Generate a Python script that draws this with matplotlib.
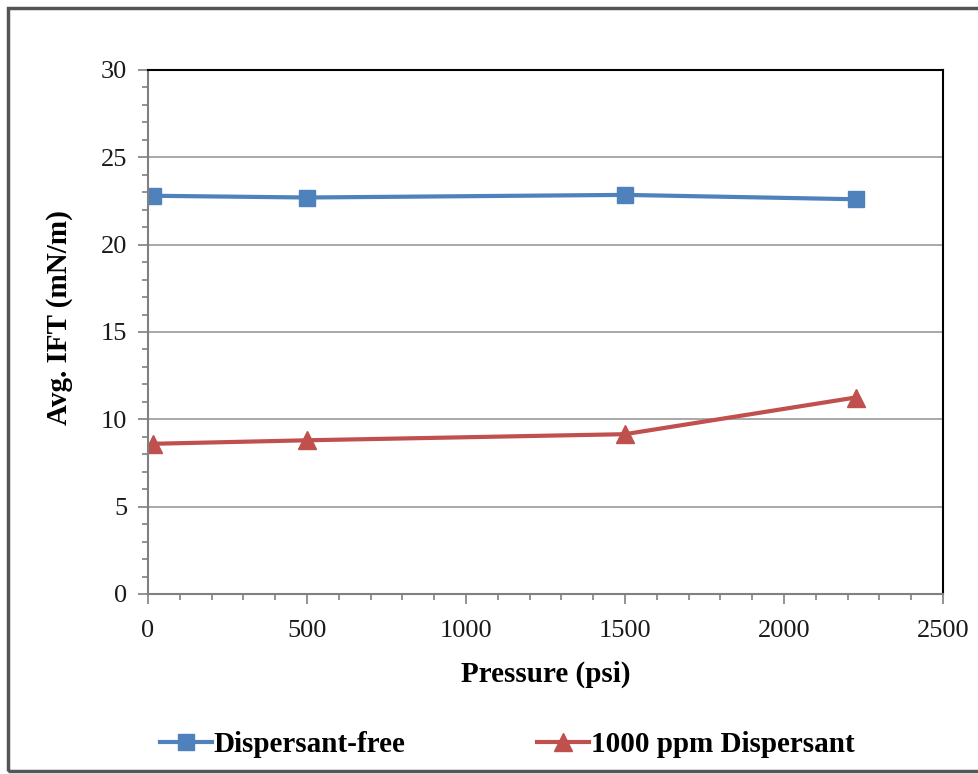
import matplotlib.pyplot as plt
from matplotlib.patches import Rectangle
from matplotlib.ticker import MultipleLocator

# data
pressure_free = [15, 500, 1500, 2225]
ift_free = [22.8, 22.7, 22.85, 22.6]
pressure_disp = [15, 500, 1500, 2225]
ift_disp = [8.6, 8.8, 9.15, 11.25]

plt.rcParams['font.family'] = ['Liberation Serif', 'DejaVu Serif']

fig = plt.figure(figsize=(9.79, 7.74), dpi=100)
ax = fig.add_axes([148/979, 1 - 594/774, (943-148)/979, (594-70)/774])

ax.plot(pressure_free, ift_free, color='#4F81BD', lw=3, marker='s', ms=12,
        label='Dispersant-free')
ax.plot(pressure_disp, ift_disp, color='#C0504D', lw=3, marker='^', ms=13,
        label='1000 ppm Dispersant')

ax.set_xlim(0, 2500)
ax.set_ylim(0, 30)
ax.xaxis.set_major_locator(MultipleLocator(500))
ax.xaxis.set_minor_locator(MultipleLocator(100))
ax.yaxis.set_major_locator(MultipleLocator(5))
ax.yaxis.set_minor_locator(MultipleLocator(1))
ax.grid(axis='y', color='#9a9a9a', lw=1.2)
ax.set_axisbelow(True)

for s in ['top', 'right']:
    ax.spines[s].set_color('black')
    ax.spines[s].set_linewidth(1.5)
for s in ['left', 'bottom']:
    ax.spines[s].set_color('#808080')
    ax.spines[s].set_linewidth(1.5)
ax.tick_params(which='both', direction='out', color='#808080', width=1.2)
ax.tick_params(which='major', length=7, labelsize=19, labelcolor='#1a1a1a')
ax.tick_params(axis='x', which='major', pad=12)
ax.tick_params(axis='y', which='major', pad=8)
ax.tick_params(which='minor', length=4)

ax.set_xlabel('Pressure (psi)', fontsize=21, fontweight='bold', labelpad=13)
ax.set_ylabel('Avg. IFT (mN/m)', fontsize=21, fontweight='bold')
ax.yaxis.set_label_coords(-0.094, 0.527)

fig.legend(loc='center', bbox_to_anchor=(0.518, 1 - 745/774), ncol=2,
           frameon=False, prop={'size': 21, 'weight': 'bold'},
           columnspacing=4.5, handlelength=1.8, handletextpad=0.05)

fig.patches.append(Rectangle((8/979, 3/774), 1.1, 1 - 11/774,
                             transform=fig.transFigure, fill=False,
                             edgecolor='#555555', lw=2.5))

fig.savefig('out.png', dpi=100)
